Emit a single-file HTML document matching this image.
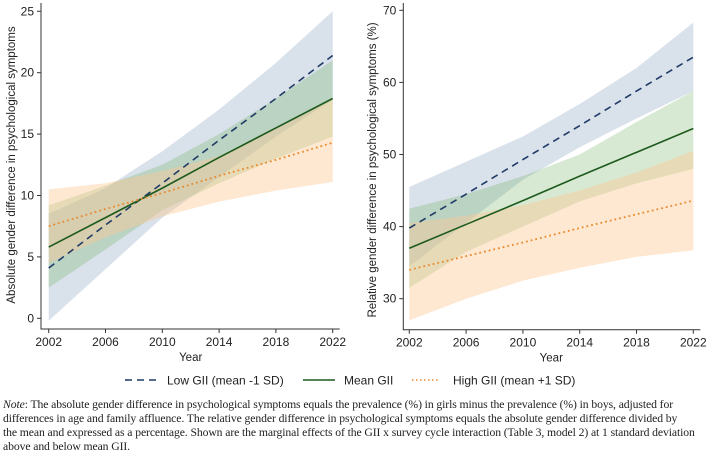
<!DOCTYPE html>
<html><head><meta charset="utf-8"><style>
body{margin:0;background:#fff;width:709px;height:458px;overflow:hidden;font-family:"Liberation Sans",sans-serif}
#note{position:absolute;left:3px;top:398px;width:706px;font-family:"Liberation Serif",serif;font-size:11.7px;line-height:14px;color:#222;letter-spacing:-0.1px;white-space:nowrap}
</style></head><body>
<svg id="svg" width="709" height="395" style="position:absolute;left:0;top:0"></svg>
<div id="note"><i>Note</i>: The absolute gender difference in psychological symptoms equals the prevalence (%) in girls minus the prevalence (%) in boys, adjusted for<br>differences in age and family affluence. The relative gender difference in psychological symptoms equals the absolute gender difference divided by<br>the mean and expressed as a percentage. Shown are the marginal effects of the GII x survey cycle interaction (Table 3, model 2) at 1 standard deviation<br>above and below mean GII.</div>
<script>
const years=[2002,2006,2010,2014,2018,2022];
const xTicks=[2002,2006,2010,2014,2018,2022];
// Left panel: absolute difference
const absLow=[4.1,7.6,11.0,14.5,17.9,21.4];
const absLowLo=[-0.2,4.0,8.2,11.5,14.8,17.8];
const absLowHi=[8.5,10.6,13.6,17.0,20.8,25.0];
const absMean=[5.8,8.2,10.6,13.1,15.5,17.9];
const absMeanLo=[2.5,5.6,8.8,11.0,13.0,14.8];
const absMeanHi=[9.2,10.8,12.5,15.0,17.9,21.0];
const absHigh=[7.5,8.9,10.2,11.6,12.9,14.3];
const absHighLo=[4.5,6.6,8.3,9.5,10.4,11.1];
const absHighHi=[10.5,11.0,12.0,13.2,15.5,17.8];
const absTicks=[0,5,10,15,20,25];
// Right panel: relative difference
const relLow=[39.8,44.5,49.3,54.0,58.8,63.5];
const relLowLo=[34.5,40.5,46.5,51.0,55.0,58.8];
const relLowHi=[45.5,49.0,52.5,57.0,62.0,68.3];
const relMean=[37.0,40.3,43.6,47.0,50.3,53.6];
const relMeanLo=[31.5,36.5,40.0,43.5,46.0,48.0];
const relMeanHi=[42.5,44.5,47.0,50.0,54.5,58.8];
const relHigh=[34.0,35.9,37.8,39.8,41.7,43.6];
const relHighLo=[27.0,30.0,32.5,34.3,35.8,36.7];
const relHighHi=[40.5,41.5,43.0,45.0,47.5,50.5];
const relTicks=[30,40,50,60,70];

const svg=document.getElementById('svg');
const NS='http://www.w3.org/2000/svg';
function el(t,a,p){const e=document.createElementNS(NS,t);for(const k in a)e.setAttribute(k,a[k]);(p||svg).appendChild(e);return e;}

function panel(cfg){
  const g=el('g',{});
  
  
  const X=v=>cfg.x0+(v-2002)/20*(cfg.x1-cfg.x0);
  const Y=v=>cfg.yb+(v-cfg.vb)/(cfg.vt-cfg.vb)*(cfg.yt-cfg.yb);
  const bands=[[cfg.lowLo,cfg.lowHi,'rgba(140,165,195,0.33)','band-low-gii'],[cfg.meanLo,cfg.meanHi,'rgba(110,175,95,0.28)','band-mean-gii'],[cfg.highLo,cfg.highHi,'rgba(252,200,145,0.42)','band-high-gii']];
  bands.forEach(b=>{
    let d='M'+years.map((y,i)=>X(y)+','+Y(b[1][i])).join('L')+'L'+years.slice().reverse().map((y,i)=>X(y)+','+Y(b[0][years.length-1-i])).join('L')+'Z';
    const p=el('path',{d:d,fill:b[2],stroke:'none'},g);
    
    
  });
  const lines=[[cfg.low,'#1f3b66','7,5',1.6,'line-low-gii'],[cfg.mean,'#1d5a1d','',1.6,'line-mean-gii'],[cfg.high,'#e8892e','1.8,3',1.8,'line-high-gii']];
  lines.forEach(l=>{
    const a={points:years.map((y,i)=>X(y)+','+Y(l[0][i])).join(' '),fill:'none',stroke:l[1],'stroke-width':l[3]};
    if(l[2])a['stroke-dasharray']=l[2];
    const p=el('polyline',a,g);
    
    
  });
  const ax=el('path',{d:`M${cfg.ax},3V${cfg.ay}H${cfg.x1+7}`,stroke:'#333','stroke-width':1,fill:'none'},g);
  
  
  xTicks.forEach(t=>{
    el('line',{x1:X(t),x2:X(t),y1:cfg.ay,y2:cfg.ay+4,stroke:'#333'},g);
    const tx=el('text',{x:X(t),y:cfg.ay+17,'text-anchor':'middle','font-size':12,fill:'#222'},g);
    tx.textContent=t;
    
    
  });
  cfg.ticks.forEach(t=>{
    el('line',{x1:cfg.ax-4,x2:cfg.ax,y1:Y(t),y2:Y(t),stroke:'#333'},g);
    const tx=el('text',{x:cfg.ax-7,y:Y(t)+4,'text-anchor':'end','font-size':12,fill:'#222'},g);
    tx.textContent=t;
    
    
  });
  const xt=el('text',{x:(cfg.x0+cfg.x1)/2,y:cfg.ay+32,'text-anchor':'middle','font-size':11.5,fill:'#222'},g);
  xt.textContent='Year';
  
  
  const yt=el('text',{x:0,y:0,'text-anchor':'middle','font-size':11.5,fill:'#222',transform:`translate(${cfg.ytx},${cfg.yty}) rotate(-90)`},g);
  yt.textContent=cfg.ytitle;
  
  
}
panel({name:'absolute-difference-panel',x0:48.7,x1:332.7,yb:318.3,vb:0,yt:11.3,vt:25,ax:41,ay:329,
 low:absLow,lowLo:absLowLo,lowHi:absLowHi,mean:absMean,meanLo:absMeanLo,meanHi:absMeanHi,high:absHigh,highLo:absHighLo,highHi:absHighHi,
 ticks:absTicks,ytitle:'Absolute gender difference in psychological symptoms',ytx:15,yty:165});
panel({name:'relative-difference-panel',x0:409.3,x1:693.3,yb:298.7,vb:30,yt:10.3,vt:70,ax:403.3,ay:329.7,
 low:relLow,lowLo:relLowLo,lowHi:relLowHi,mean:relMean,meanLo:relMeanLo,meanHi:relMeanHi,high:relHigh,highLo:relHighLo,highHi:relHighHi,
 ticks:relTicks,ytitle:'Relative gender difference in psychological symptoms (%)',ytx:376,yty:170});
const lg=el('g',{});


const leg=[[125,159,'#1f3b66','7,5','Low GII (mean -1 SD)',167],[303,335,'#1d5a1d','','Mean GII',344],[412,440,'#e8892e','1.5,2.5','High GII (mean +1 SD)',453]];
leg.forEach(l=>{
  const a={x1:l[0],x2:l[1],y1:380,y2:380,stroke:l[2],'stroke-width':1.6};
  if(l[3])a['stroke-dasharray']=l[3];
  el('line',a,lg);
  const t=el('text',{x:l[5],y:384.5,'font-size':12,fill:'#222'},lg);
  t.textContent=l[4];
  
  
});
</script>
</body></html>
